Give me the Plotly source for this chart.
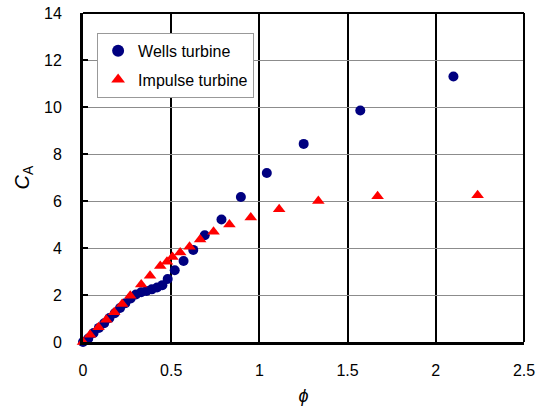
import plotly.graph_objects as go

# Wells turbine
wells_phi = [0.0, 0.03, 0.06, 0.09, 0.12, 0.15, 0.18, 0.21, 0.24, 0.27, 0.30, 0.33, 0.36, 0.39,
             0.42, 0.45, 0.48, 0.52, 0.57, 0.625, 0.69, 0.785, 0.895, 1.042, 1.251, 1.572, 2.10]
wells_ca = [0.0, 0.15, 0.38, 0.60, 0.80, 1.02, 1.22, 1.45, 1.65, 1.85, 2.02, 2.12, 2.17, 2.24,
            2.32, 2.42, 2.68, 3.05, 3.45, 3.92, 4.54, 5.21, 6.17, 7.19, 8.43, 9.85, 11.30]

# Impulse turbine
imp_phi = [0.0, 0.04, 0.088, 0.132, 0.177, 0.222, 0.268, 0.33, 0.38, 0.438, 0.476, 0.507,
           0.551, 0.604, 0.664, 0.740, 0.830, 0.951, 1.112, 1.334, 1.670, 2.237]
imp_ca = [0.0, 0.31, 0.63, 0.95, 1.27, 1.62, 1.97, 2.45, 2.82, 3.23, 3.41, 3.62,
          3.81, 4.05, 4.36, 4.69, 5.00, 5.30, 5.65, 6.00, 6.20, 6.25]

x_ticks = [0, 0.5, 1, 1.5, 2, 2.5]
x_tick_labels = ["0", "0.5", "1", "1.5", "2", "2.5"]
y_ticks = [0, 2, 4, 6, 8, 10, 12, 14]

FONT = "Liberation Sans, Arial, sans-serif"

fig = go.Figure()
fig.add_trace(go.Scatter(x=wells_phi, y=wells_ca, mode="markers", name="Wells turbine",
                         legendgroup="w",
                         marker=dict(symbol="circle", size=10, color="#000080"), cliponaxis=False))
fig.add_trace(go.Scatter(x=imp_phi, y=imp_ca, mode="markers", name="Impulse turbine",
                         legendgroup="i",
                         marker=dict(symbol="triangle-up", size=11, color="#FF0000"), cliponaxis=False))

fig.update_layout(
    width=544, height=406,
    margin=dict(l=83, r=20, t=13, b=64, autoexpand=False),
    paper_bgcolor="white", plot_bgcolor="white",
    font=dict(family=FONT, size=16, color="black"),
    showlegend=True,
    legend=dict(x=0.032, y=0.94, xanchor="left", yanchor="top",
                bgcolor="white", bordercolor="#999999", borderwidth=1,
                font=dict(size=16), itemsizing="constant", tracegroupgap=5,
                itemwidth=30),
    xaxis=dict(range=[0, 2.5], tickvals=x_ticks, ticktext=x_tick_labels,
               ticks="inside", ticklen=5, tickwidth=2, tickcolor="black",
               showline=True, linecolor="black", linewidth=3,
               showgrid=True, gridcolor="black", gridwidth=1.5,
               zeroline=False, ticklabelstandoff=12, automargin=False,
               ticklabeloverflow="allow",
               title=dict(text="<i>ϕ</i>", font=dict(size=18), standoff=16)),
    yaxis=dict(range=[0, 14], tickvals=y_ticks,
               ticks="inside", ticklen=5, tickwidth=2, tickcolor="black",
               showline=True, linecolor="black", linewidth=3,
               showgrid=True, gridcolor="#8c8c8c", gridwidth=1,
               zeroline=False, ticklabelstandoff=15, automargin=False,
               ticklabeloverflow="allow",
               title=dict(text="<i>C</i><sub>A</sub>", font=dict(size=20), standoff=10)),
    shapes=[
        dict(type="line", xref="x domain", yref="y domain", x0=0, x1=1, y0=1, y1=1,
             line=dict(color="black", width=2)),
        dict(type="line", xref="x domain", yref="y domain", x0=1, x1=1, y0=0, y1=1,
             line=dict(color="black", width=2)),
    ],
)

fig.write_html("out.html",
               config={"displayModeBar": False},
               post_script="document.body.style.margin='0px';document.body.style.overflow='hidden';")
